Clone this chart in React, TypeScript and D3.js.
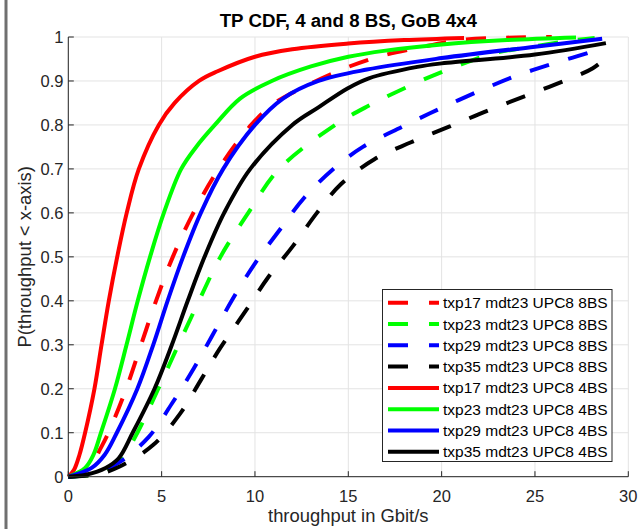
import React from 'react';
import * as d3 from 'd3';

const width = 638;
const height = 529;
const plot = { left: 68.3, right: 628.3, top: 37, bottom: 476.7 };
const font = 'Liberation Sans, Arial, Helvetica, sans-serif';

const xTicks = [0, 5, 10, 15, 20, 25, 30];
const yTicks = [0, 0.1, 0.2, 0.3, 0.4, 0.5, 0.6, 0.7, 0.8, 0.9, 1];

const title = 'TP CDF, 4 and 8 BS, GoB 4x4';
const xLabel = 'throughput in Gbit/s';
const yLabel = 'P(throughput < x-axis)';

const seriesNames = [
	'txp17 mdt23 UPC8 8BS',
	'txp23 mdt23 UPC8 8BS',
	'txp29 mdt23 UPC8 8BS',
	'txp35 mdt23 UPC8 8BS',
	'txp17 mdt23 UPC8 4BS',
	'txp23 mdt23 UPC8 4BS',
	'txp29 mdt23 UPC8 4BS',
	'txp35 mdt23 UPC8 4BS'
];
const seriesColors = ['#ff0000', '#00ff00', '#0000ff', '#000000', '#ff0000', '#00ff00', '#0000ff', '#000000'];
const seriesDashed = [true, true, true, true, false, false, false, false];

// throughput (Gbit/s), P(throughput < x)
const txp17_8BS: [number, number][] = [
	[0, 0], [0.8, 0.01], [1.3, 0.03], [1.7, 0.062], [2.15, 0.1], [3.1, 0.2], [3.9, 0.3],
	[4.7, 0.4], [5.6, 0.5], [6.7, 0.6], [8.05, 0.7], [9.8, 0.8], [11.0, 0.848], [12.5, 0.884],
	[14, 0.914], [15, 0.932], [16.6, 0.955], [18.7, 0.975], [21, 0.993], [24, 0.999], [25.9, 1.0]
];
const txp23_8BS: [number, number][] = [
	[0, 0], [1.2, 0.004], [2.0, 0.012], [3.0, 0.05], [3.7, 0.1], [4.82, 0.2], [5.9, 0.3],
	[7.0, 0.4], [8.15, 0.5], [9.64, 0.6], [11.3, 0.7], [14.3, 0.8], [16.06, 0.843], [18.7, 0.897],
	[20.7, 0.932], [22.7, 0.962], [25, 0.979], [27, 0.992], [28.2, 0.998]
];
const txp29_8BS: [number, number][] = [
	[0, 0], [1.5, 0.008], [2.7, 0.032], [4.3, 0.09], [5.56, 0.167], [6.72, 0.246], [7.7, 0.32],
	[8.86, 0.408], [10.03, 0.487], [11.32, 0.561], [12.65, 0.635], [14.2, 0.7], [15.78, 0.75],
	[17.9, 0.796], [19.9, 0.837], [21.9, 0.875], [23.95, 0.911], [26, 0.94], [28.15, 0.968], [28.75, 0.978]
];
const txp35_8BS: [number, number][] = [
	[0, 0], [1.5, 0.005], [2.7, 0.022], [4.54, 0.072], [6.0, 0.144], [7.13, 0.222], [8.1, 0.29],
	[9.5, 0.377], [10.7, 0.453], [12.04, 0.525], [13.32, 0.6], [14.6, 0.665], [16.4, 0.722],
	[18.33, 0.76], [20.4, 0.796], [22.44, 0.832], [24.5, 0.866], [26.55, 0.9], [28.1, 0.929], [28.9, 0.956]
];
const txp17_4BS: [number, number][] = [
	[0, 0], [0.3, 0.015], [0.6, 0.05], [0.9, 0.1], [1.4, 0.2], [1.78, 0.3], [2.17, 0.4],
	[2.62, 0.5], [3.13, 0.6], [3.78, 0.7], [4.85, 0.8], [5.7, 0.85], [7.0, 0.9], [8, 0.922],
	[10, 0.955], [12, 0.972], [15, 0.985], [18, 0.993], [21.2, 0.998]
];
const txp23_4BS: [number, number][] = [
	[0, 0], [0.9, 0.02], [1.35, 0.05], [1.75, 0.1], [2.5, 0.2], [3.12, 0.3], [3.72, 0.4],
	[4.38, 0.5], [5.12, 0.6], [6.05, 0.7], [6.85, 0.75], [7.85, 0.8], [9.2, 0.86], [10.9, 0.9],
	[13, 0.933], [15, 0.955], [17, 0.969], [20, 0.983], [23.5, 0.993], [27.2, 0.999]
];
const txp29_4BS: [number, number][] = [
	[0, 0], [1.25, 0.02], [1.95, 0.05], [2.6, 0.1], [3.7, 0.2], [4.55, 0.3], [5.32, 0.4],
	[6.15, 0.5], [7.1, 0.6], [8.3, 0.7], [10.0, 0.8], [11.5, 0.86], [13.4, 0.9], [16, 0.926],
	[20, 0.952], [25, 0.978], [28.6, 0.996]
];
const txp35_4BS: [number, number][] = [
	[0, 0], [1.0, 0.005], [2.0, 0.02], [2.7, 0.042], [3.45, 0.1], [4.62, 0.2], [5.55, 0.3],
	[6.4, 0.4], [7.3, 0.5], [8.35, 0.6], [9.75, 0.7], [12.0, 0.8], [13.4, 0.84], [15, 0.884],
	[16.1, 0.906], [18.7, 0.932], [20, 0.94], [25, 0.96], [28.8, 0.986]
];

const seriesData = [txp17_8BS, txp23_8BS, txp29_8BS, txp35_8BS, txp17_4BS, txp23_4BS, txp29_4BS, txp35_4BS];

const xScale = d3.scaleLinear().domain([0, 30]).range([plot.left, plot.right]);
const yScale = d3.scaleLinear().domain([0, 1]).range([plot.bottom, plot.top]);

const line = d3
	.line<[number, number]>()
	.x(d => xScale(d[0]))
	.y(d => yScale(d[1]))
	.curve(d3.curveCatmullRom.alpha(0.5));

const gridColor = '#e3e3e3';
const axisColor = '#262626';
const dash = '20 20';

export default function App() {
	const legend = { x: 382.5, y: 289.5, w: 229.5, h: 172, row0: 302.7, rowStep: 21.3 };
	return (
		<svg
			width={width}
			height={height}
			style={{ position: 'absolute', left: 0, top: 0, background: '#fff' }}
			fontFamily={font}
		>
			<rect x={0} y={0} width={width} height={height} fill="#fff" />
			<rect x={4.5} y={0} width={3} height={height} fill="#707070" />

			{/* grid */}
			{xTicks.map(t => (
				<line key={'gx' + t} x1={xScale(t)} x2={xScale(t)} y1={plot.top} y2={plot.bottom} stroke={gridColor} strokeWidth={1} />
			))}
			{yTicks.map(t => (
				<line key={'gy' + t} x1={plot.left} x2={plot.right} y1={yScale(t)} y2={yScale(t)} stroke={gridColor} strokeWidth={1} />
			))}

			{/* curves: 8BS dashed first, then 4BS solid */}
			{seriesData.map((d, i) => (
				<path
					key={seriesNames[i]}
					d={line(d) || ''}
					fill="none"
					stroke={seriesColors[i]}
					strokeWidth={4}
					strokeDasharray={seriesDashed[i] ? dash : undefined}
				/>
			))}

			{/* axes */}
			<line x1={plot.left} x2={plot.left} y1={plot.top} y2={plot.bottom} stroke={axisColor} strokeWidth={1} />
			<line x1={plot.left} x2={plot.right} y1={plot.bottom} y2={plot.bottom} stroke={axisColor} strokeWidth={1} />
			{xTicks.map(t => (
				<g key={'tx' + t}>
					<line x1={xScale(t)} x2={xScale(t)} y1={plot.bottom} y2={plot.bottom - 5.5} stroke={axisColor} />
					<text x={xScale(t)} y={501.5} textAnchor="middle" fontSize={16.5} fill={axisColor}>
						{t}
					</text>
				</g>
			))}
			{yTicks.map(t => (
				<g key={'ty' + t}>
					<line x1={plot.left} x2={plot.left + 5.5} y1={yScale(t)} y2={yScale(t)} stroke={axisColor} />
					<text x={63.5} y={yScale(t) + 5.9} textAnchor="end" fontSize={16.5} fill={axisColor}>
						{d3.format('~g')(t)}
					</text>
				</g>
			))}

			<text x={(plot.left + plot.right) / 2} y={26.7} textAnchor="middle" fontSize={18.7} fontWeight="bold" fill="#000">
				{title}
			</text>
			<text x={(plot.left + plot.right) / 2} y={522} textAnchor="middle" fontSize={18.4} fill={axisColor}>
				{xLabel}
			</text>
			<text
				transform={`translate(31, ${(plot.top + plot.bottom) / 2}) rotate(-90)`}
				textAnchor="middle"
				fontSize={18.4}
				fill={axisColor}
			>
				{yLabel}
			</text>

			{/* legend */}
			<rect x={legend.x} y={legend.y} width={legend.w} height={legend.h} fill="#fff" stroke={axisColor} strokeWidth={1} />
			{seriesNames.map((name, i) => {
				const cy = legend.row0 + i * legend.rowStep;
				return (
					<g key={'lg' + i}>
						<line
							x1={388}
							x2={439}
							y1={cy}
							y2={cy}
							stroke={seriesColors[i]}
							strokeWidth={4}
							strokeDasharray={seriesDashed[i] ? '20 21' : undefined}
						/>
						<text x={443} y={cy + 5.5} fontSize={15.5} fill="#000">
							{name}
						</text>
					</g>
				);
			})}
		</svg>
	);
}
